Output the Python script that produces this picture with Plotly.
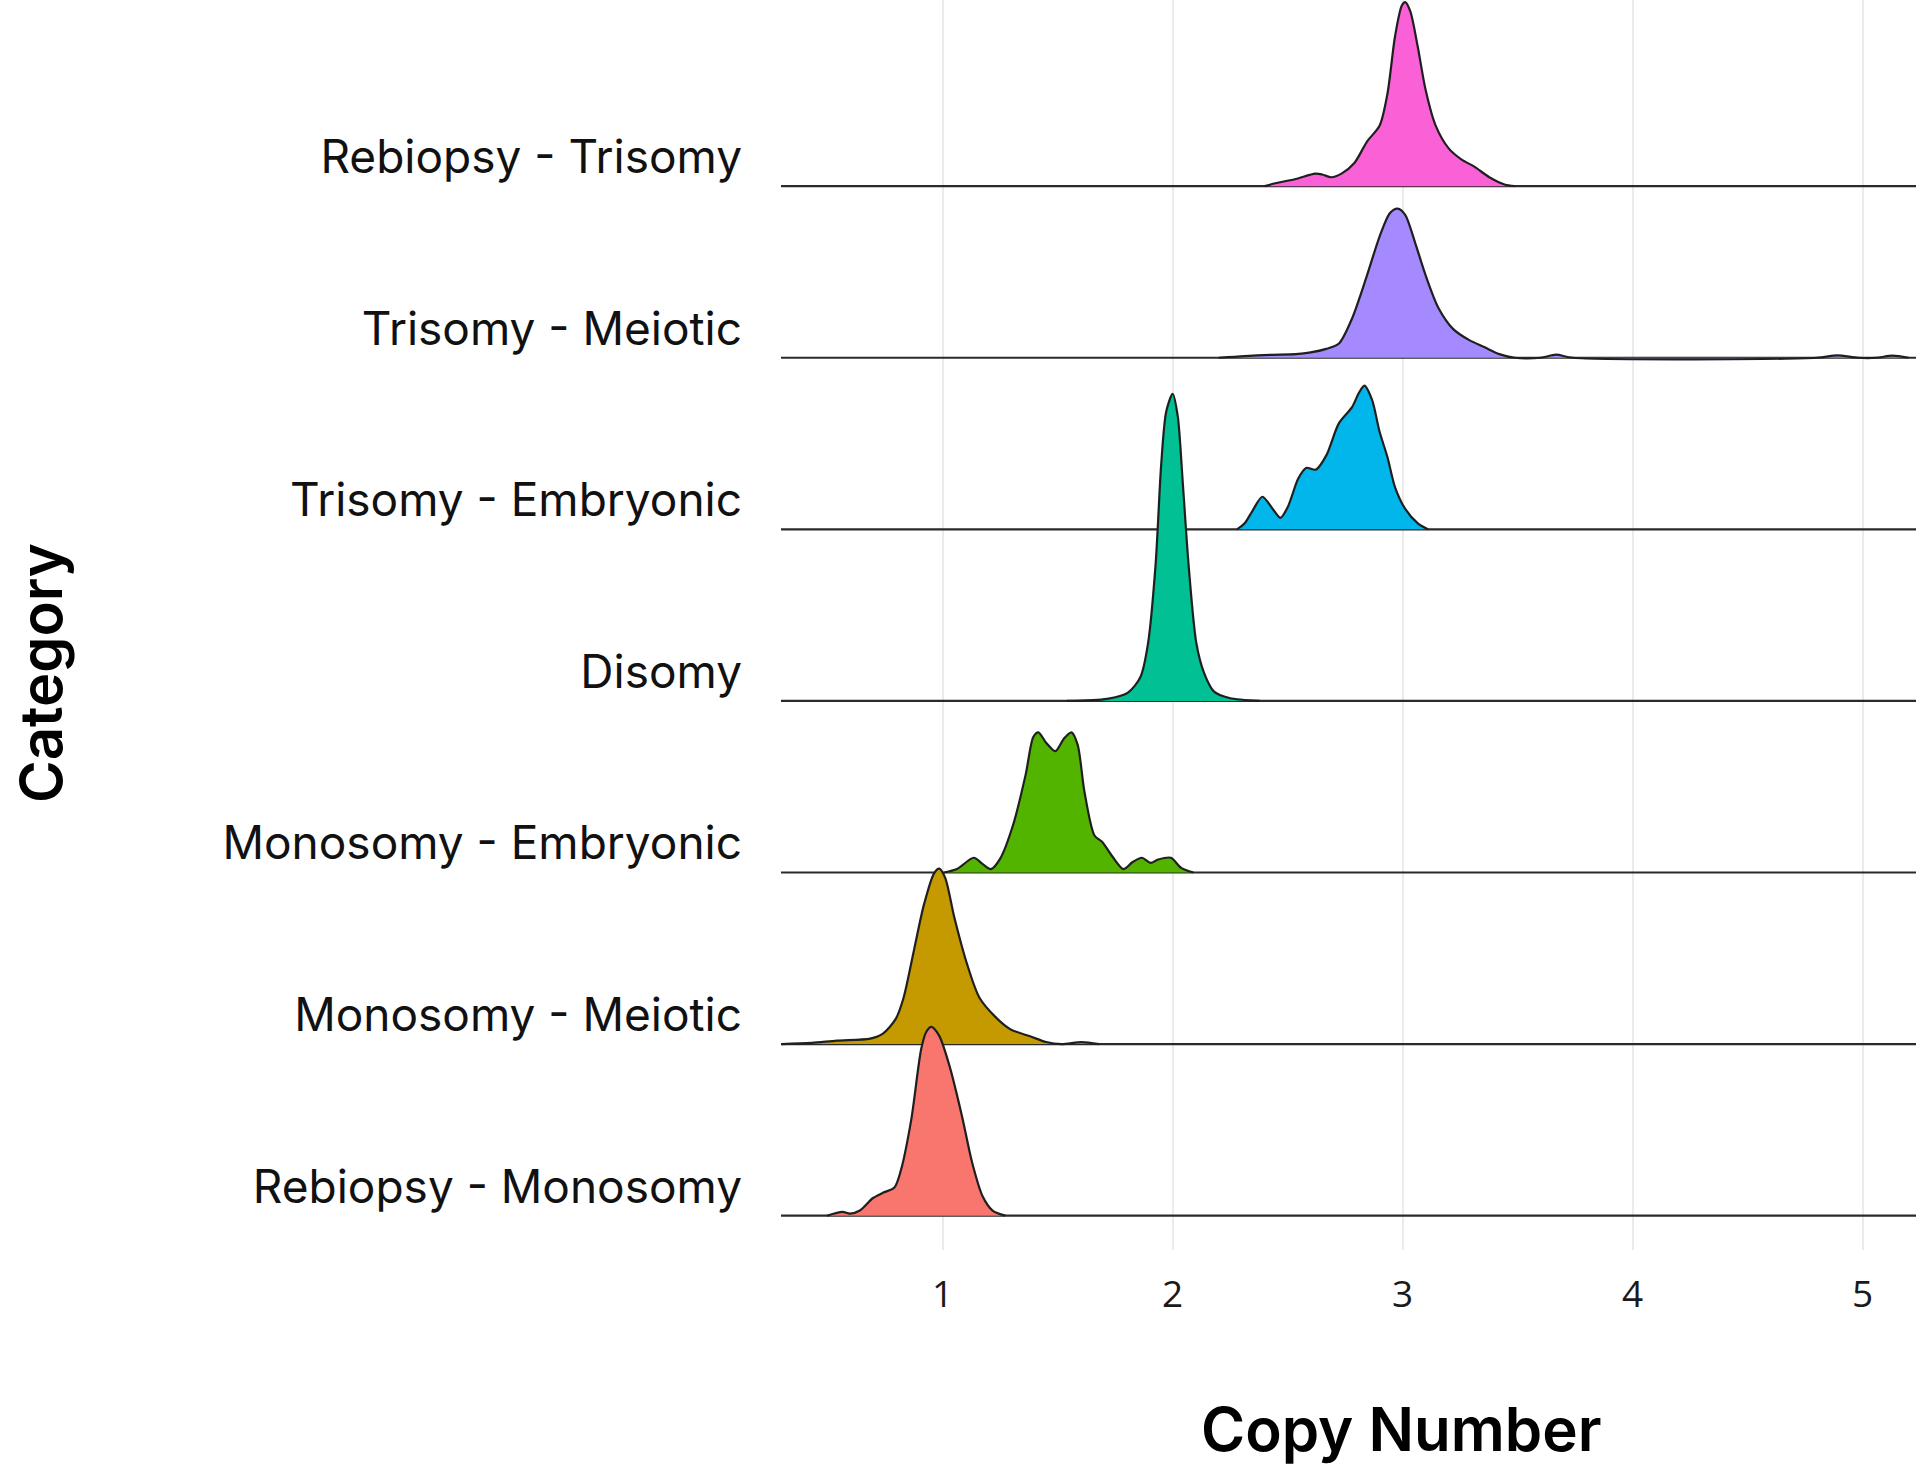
import plotly.graph_objects as go

# ridgeline plot of copy number per category
categories = [
    "Rebiopsy - Monosomy",
    "Monosomy - Meiotic",
    "Monosomy - Embryonic",
    "Disomy",
    "Trisomy - Embryonic",
    "Trisomy - Meiotic",
    "Rebiopsy - Trisomy",
]
colors = ["#F8766D", "#C49A00", "#53B400", "#00C094", "#00B6EB", "#A58AFF", "#FB61D7"]

# x = copy number, h = ridge height (in units of row spacing)
reb_mono_x = [0.497, 0.564, 0.597, 0.64, 0.697, 0.74, 0.79, 0.818, 0.863, 0.907, 0.929, 0.951,
              0.985, 1.029, 1.084, 1.128, 1.173, 1.217, 1.272]
reb_mono_h = [0, 0.022, 0.012, 0.03, 0.103, 0.133, 0.164, 0.263, 0.557, 0.974, 1.072, 1.10,
              1.048, 0.876, 0.58, 0.31, 0.115, 0.03, 0]

mono_mei_x = [0.30, 0.43, 0.54, 0.685, 0.74, 0.796, 0.83, 0.874, 0.918, 0.962, 0.985, 1.011,
              1.051, 1.106, 1.16, 1.228, 1.295, 1.383, 1.45, 1.516, 1.605, 1.68]
mono_mei_h = [0.0, 0.007, 0.02, 0.032, 0.061, 0.147, 0.27, 0.54, 0.81, 0.994, 1.023, 0.969,
              0.736, 0.466, 0.27, 0.16, 0.086, 0.044, 0.012, 0, 0.012, 0]

mono_emb_x = [1.007, 1.062, 1.135, 1.173, 1.21, 1.25, 1.306, 1.361, 1.394, 1.416, 1.45, 1.49,
              1.527, 1.56, 1.587, 1.616, 1.66, 1.693, 1.738, 1.786, 1.826, 1.866, 1.904, 1.937,
              1.992, 2.037, 2.09]
mono_emb_h = [0, 0.02, 0.086, 0.05, 0.02, 0.081, 0.277, 0.572, 0.79, 0.817, 0.756, 0.707,
              0.78, 0.817, 0.744, 0.474, 0.216, 0.179, 0.093, 0.02, 0.061, 0.086, 0.056, 0.076,
              0.086, 0.027, 0]

disomy_x = [1.54, 1.715, 1.804, 1.86, 1.893, 1.926, 1.95, 1.972, 2.0, 2.022, 2.044, 2.07,
            2.103, 2.136, 2.18, 2.247, 2.38]
disomy_h = [0, 0.012, 0.047, 0.14, 0.336, 0.80, 1.376, 1.687, 1.79, 1.66, 1.27, 0.78,
            0.336, 0.165, 0.054, 0.017, 0]

tri_emb_x = [2.28, 2.313, 2.347, 2.39, 2.435, 2.468, 2.50, 2.546, 2.58, 2.623, 2.668, 2.723,
             2.78, 2.81, 2.834, 2.867, 2.90, 2.934, 2.967, 3.011, 3.066, 3.11]
tri_emb_h = [0, 0.035, 0.108, 0.19, 0.119, 0.067, 0.129, 0.296, 0.358, 0.348, 0.431, 0.619,
             0.7125, 0.796, 0.8375, 0.754, 0.567, 0.42, 0.244, 0.119, 0.035, 0]

tri_mei_x = [2.20, 2.313, 2.424, 2.535, 2.60, 2.668, 2.723, 2.78, 2.845, 2.90, 2.945, 2.978,
             3.011, 3.055, 3.10, 3.155, 3.22, 3.288, 3.354, 3.42, 3.487, 3.60, 3.667, 3.74,
             4.80, 4.89, 4.98, 5.06, 5.13, 5.20]
tri_mei_h = [0, 0.01, 0.017, 0.021, 0.031, 0.052, 0.083, 0.229, 0.48, 0.708, 0.844, 0.869,
             0.833, 0.667, 0.48, 0.292, 0.167, 0.104, 0.0625, 0.021, 0, 0, 0.018, 0,
             0, 0.014, 0, 0, 0.012, 0]

reb_tri_x = [2.40, 2.446, 2.535, 2.62, 2.65, 2.69, 2.734, 2.79, 2.845, 2.90, 2.934, 2.967,
             2.996, 3.011, 3.033, 3.066, 3.10, 3.143, 3.20, 3.255, 3.31, 3.377, 3.443, 3.487]
reb_tri_h = [0, 0.017, 0.042, 0.073, 0.068, 0.052, 0.073, 0.135, 0.26, 0.354, 0.54, 0.875,
             1.052, 1.073, 1.02, 0.81, 0.56, 0.354, 0.22, 0.156, 0.115, 0.052, 0.01, 0]

ridges = [
    (reb_mono_x, reb_mono_h),
    (mono_mei_x, mono_mei_h),
    (mono_emb_x, mono_emb_h),
    (disomy_x, disomy_h),
    (tri_emb_x, tri_emb_h),
    (tri_mei_x, tri_mei_h),
    (reb_tri_x, reb_tri_h),
]

x_lo, x_hi = 0.297, 5.232

fig = go.Figure()

# draw top rows first so lower ridges overlap them (as ggridges does)
for i in reversed(range(len(categories))):
    xs, hs = ridges[i]
    # flat baseline across the whole panel
    fig.add_trace(go.Scatter(
        x=[x_lo, x_hi], y=[i, i], mode="lines",
        line=dict(color="#2a2a2a", width=2.2),
        showlegend=False, hoverinfo="skip",
    ))
    fig.add_trace(go.Scatter(
        x=xs, y=[i + h for h in hs], mode="lines", fill="toself", fillcolor=colors[i],
        line=dict(color="#1f1f1f", width=2.2, shape="spline", smoothing=0.8),
        name=categories[i], showlegend=False, hoverinfo="skip",
    ))

fig.update_layout(
    width=1920, height=1466,
    plot_bgcolor="white", paper_bgcolor="white",
    margin=dict(l=781, r=4, t=0, b=216),
    xaxis=dict(
        range=[x_lo, x_hi], tickvals=[1, 2, 3, 4, 5],
        showgrid=True, gridcolor="#EBEBEB", gridwidth=1.6,
        zeroline=False, showline=False, ticks="",
        ticklabelstandoff=19,
        tickfont=dict(family="Open Sans", size=37, color="#1a1a1a"),
    ),
    yaxis=dict(
        range=[-0.2, 7.085],
        tickvals=[i + 0.17 for i in range(len(categories))],
        ticktext=categories,
        showgrid=False, zeroline=False, showline=False, ticks="",
        ticklabelstandoff=38,
        tickfont=dict(family="Inter", size=46, color="#111111"),
    ),
    annotations=[
        dict(text="Copy Number", xref="paper", yref="paper", x=0.547, y=-0.143,
             xanchor="center", yanchor="middle", showarrow=False,
             font=dict(family="Inter", size=60, color="black", weight=600)),
        dict(text="Category", xref="paper", yref="paper", x=-0.652, y=0.4616,
             xanchor="center", yanchor="middle", showarrow=False, textangle=-90,
             font=dict(family="Inter", size=58, color="black", weight=600)),
    ],
)

# drop the default body margin so the figure sits at the page's top-left corner
fig.write_html("out.html", config={"displayModeBar": False},
               post_script="document.body.style.margin='0';")
